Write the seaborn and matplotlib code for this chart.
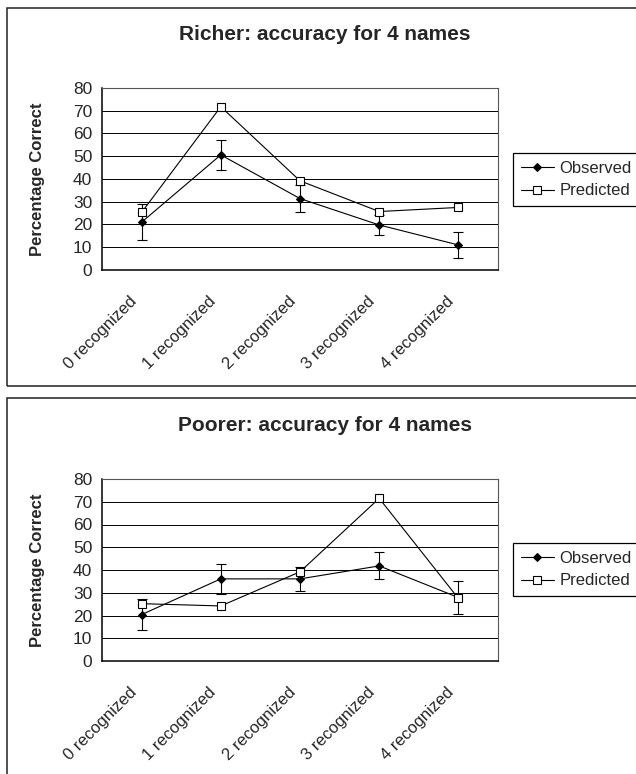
import numpy as np
import pandas as pd
import matplotlib
matplotlib.use('Agg')
import matplotlib.pyplot as plt
from matplotlib.patches import Rectangle
from matplotlib.transforms import ScaledTranslation
import seaborn as sns

# values
categories = ['0 recognized', '1 recognized', '2 recognized', '3 recognized', '4 recognized']

richer_observed = [21.0, 50.6, 31.4, 19.8, 11.0]
richer_err = [7.8, 6.5, 6.0, 4.2, 5.9]
richer_predicted = [25.3, 71.8, 39.2, 25.7, 27.5]

poorer_observed = [20.4, 36.1, 36.1, 41.8, 27.9]
poorer_err = [6.9, 6.6, 5.3, 5.9, 7.2]
poorer_predicted = [25.2, 24.2, 39.2, 71.5, 27.5]

y_ticks = [0, 10, 20, 30, 40, 50, 60, 70, 80]

W, H = 636, 774


def fx(px):
    return px / W


def fy(py):
    return 1 - py / H


def draw_panel(fig, ax, title, observed, err, predicted, box_top, title_y):
    df = pd.DataFrame({'pos': np.arange(len(categories)),
                       'observed': observed, 'err': err, 'predicted': predicted})

    # outer chart-area frame (runs off the right / bottom edge like the original)
    fig.patches.append(Rectangle((fx(7), fy(box_top + 378)), 1.2, 378 / H,
                                 transform=fig.transFigure, fill=False,
                                 edgecolor='#222222', linewidth=1.1))

    ax.set_axisbelow(True)
    for v in y_ticks[1:-1]:
        ax.axhline(v, color='black', linewidth=0.7, zorder=0)

    sns.lineplot(data=df, x='pos', y='observed', ax=ax, color='black',
                 linewidth=0.8, marker='D', markersize=4.3,
                 markeredgecolor='black', markerfacecolor='black',
                 label='Observed', zorder=3)
    ax.errorbar(df['pos'], df['observed'], yerr=df['err'], fmt='none',
                ecolor='black', elinewidth=0.8, capsize=3.4, capthick=0.8, zorder=3)
    sns.lineplot(data=df, x='pos', y='predicted', ax=ax, color='black',
                 linewidth=0.8, marker='s', markersize=5.2,
                 markeredgecolor='black', markerfacecolor='white',
                 markeredgewidth=0.8, label='Predicted', zorder=4)

    ax.set_xlim(-0.5, len(categories) - 0.5)
    ax.set_ylim(0, 80)
    ax.set_yticks(y_ticks)
    ax.set_xticks(df['pos'])
    ax.set_xticks(np.arange(-0.5, len(categories)), minor=True)
    ax.tick_params(axis='x', which='major', length=0, pad=21)
    ax.tick_params(axis='x', which='minor', length=4, width=0.9, direction='out', color='black')
    ax.tick_params(axis='y', length=4, width=0.9, direction='out', pad=3, labelsize=12.5, color='black')
    ax.set_xticklabels(categories, rotation=45, ha='right', va='center',
                       rotation_mode='anchor', fontsize=12)
    # labels sit a little left of the category centre in the original
    shift = ScaledTranslation(-7 / 100, 0, fig.dpi_scale_trans)
    for lab in ax.get_xticklabels():
        lab.set_transform(lab.get_transform() + shift)
    ax.set_xlabel('')
    ax.set_ylabel('Percentage Correct', fontsize=12, fontweight='bold', labelpad=20)

    for side in ['top', 'right']:
        ax.spines[side].set_color('#555555')
        ax.spines[side].set_linewidth(0.8)
    for side in ['left', 'bottom']:
        ax.spines[side].set_color('black')
        ax.spines[side].set_linewidth(1.1)

    fig.text(fx(325), fy(title_y), title, ha='center', va='center',
             fontsize=15, fontweight='bold')

    ax.legend(loc='center left', bbox_to_anchor=(fx(513), fy(box_top + 171.5)),
              bbox_transform=fig.transFigure, fontsize=12, frameon=True,
              fancybox=False, edgecolor='black', framealpha=1,
              handlelength=2.0, handletextpad=0.35, borderpad=0.45,
              labelspacing=0.47, borderaxespad=0)
    ax.get_legend().get_frame().set_linewidth(0.9)


sns.set_style('white')
plt.rcParams['font.family'] = ['Liberation Sans', 'DejaVu Sans']

fig = plt.figure(figsize=(W / 100, H / 100), dpi=100)
ax1 = fig.add_axes([fx(102), fy(270), fx(498) - fx(102), 182 / H])
ax2 = fig.add_axes([fx(102), fy(661), fx(498) - fx(102), 182 / H])

draw_panel(fig, ax1, 'Richer: accuracy for 4 names',
           richer_observed, richer_err, richer_predicted, 8, 35)
draw_panel(fig, ax2, 'Poorer: accuracy for 4 names',
           poorer_observed, poorer_err, poorer_predicted, 398, 425)

fig.savefig('out.png', dpi=100)
